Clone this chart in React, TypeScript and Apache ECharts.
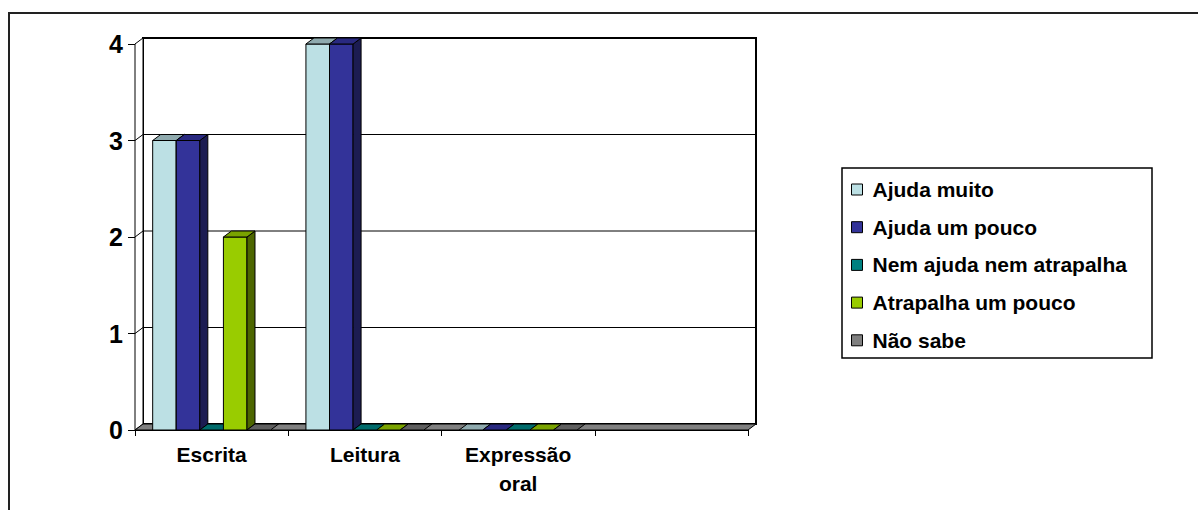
import React, { useEffect, useRef } from "react";
import * as echarts from "echarts";

const categories = ["Escrita", "Leitura", "Expressão\noral", ""];
const seriesNames = [
  "Ajuda muito",
  "Ajuda um pouco",
  "Nem ajuda nem atrapalha",
  "Atrapalha um pouco",
  "Não sabe",
];
const ajudaMuito = [3, 4, 0];
const ajudaUmPouco = [3, 4, 0];
const nemAjuda = [0, 0, 0];
const atrapalhaUmPouco = [2, 0, 0];
const naoSabe = [0, 0, 0];
const seriesValues = [ajudaMuito, ajudaUmPouco, nemAjuda, atrapalhaUmPouco, naoSabe];
const yTicks = [0, 1, 2, 3, 4];

const faceColors = ["#BCE0E4", "#333399", "#008080", "#99CC00", "#808080"];
const topColors = ["#8FAAAE", "#292980", "#006B6B", "#7AA300", "#5F5F5F"];
const sideColors = ["#5E7072", "#1C1C52", "#004444", "#4D6600", "#404040"];

const DX = 8;
const DY = -6;
const FONT = "Arial, 'Liberation Sans', sans-serif";

export default function App() {
  const ref = useRef<HTMLDivElement>(null);

  useEffect(() => {
    if (!ref.current) return;
    const chart = echarts.init(ref.current, undefined, { renderer: "svg" });

    const wallSeries: any = {
      type: "custom",
      name: "walls",
      silent: true,
      data: [[0, 0]],
      encode: { x: 0, y: 1 },
      renderItem: (params: any, api: any) => {
        const cs = params.coordSys;
        const gx = cs.x, gy = cs.y, gw = cs.width, gh = cs.height;
        const children: any[] = [];
        children.push({
          type: "rect",
          shape: { x: gx + DX, y: gy + DY, width: gw, height: gh },
          style: { fill: "#fff", stroke: "#000", lineWidth: 2 },
        });
        children.push({
          type: "polygon",
          shape: {
            points: [
              [gx, gy + gh],
              [gx, gy],
              [gx + DX, gy + DY],
              [gx + DX, gy + gh + DY],
            ],
          },
          style: { fill: "#fff", stroke: "#000", lineWidth: 1 },
        });
        yTicks.forEach((v) => {
          if (v === yTicks[0] || v === yTicks[yTicks.length - 1]) return;
          const y = api.coord([0, v])[1];
          children.push({
            type: "line",
            shape: { x1: gx + DX, y1: y + DY, x2: gx + gw + DX, y2: y + DY },
            style: { stroke: "#000", lineWidth: 1 },
          });
          children.push({
            type: "line",
            shape: { x1: gx, y1: y, x2: gx + DX, y2: y + DY },
            style: { stroke: "#000", lineWidth: 1 },
          });
        });
        children.push({
          type: "polygon",
          shape: {
            points: [
              [gx, gy + gh],
              [gx + gw, gy + gh],
              [gx + gw + DX, gy + gh + DY],
              [gx + DX, gy + gh + DY],
            ],
          },
          style: { fill: "#808080", stroke: "#000", lineWidth: 1 },
        });
        return { type: "group", children };
      },
      z: 1,
    };

    const makeBar = (si: number) => ({
      type: "custom",
      name: seriesNames[si],
      itemStyle: { color: faceColors[si] },
      data: seriesValues[si].map((v, i) => [i, v]),
      encode: { x: 0, y: 1 },
      z: 2,
      renderItem: (params: any, api: any) => {
        const cat = api.value(0);
        const val = api.value(1);
        const base = api.coord([cat, 0]);
        const top = api.coord([cat, val]);
        const band = api.size([1, 0])[0];
        const bw = band / 6.5;
        const x = base[0] - band / 2 + bw * 0.75 + si * bw;
        const y0 = base[1];
        const yt = top[1];
        const children: any[] = [];
        if (val > 0) {
          children.push({
            type: "rect",
            shape: { x, y: yt, width: bw, height: y0 - yt },
            style: { fill: faceColors[si], stroke: "#000", lineWidth: 1 },
          });
          children.push({
            type: "polygon",
            shape: {
              points: [
                [x + bw, yt],
                [x + bw + DX, yt + DY],
                [x + bw + DX, y0 + DY],
                [x + bw, y0],
              ],
            },
            style: { fill: sideColors[si], stroke: "#000", lineWidth: 1 },
          });
        }
        children.push({
          type: "polygon",
          shape: {
            points: [
              [x, yt],
              [x + bw, yt],
              [x + bw + DX, yt + DY],
              [x + DX, yt + DY],
            ],
          },
          style: { fill: topColors[si], stroke: "#000", lineWidth: 1 },
        });
        return { type: "group", children };
      },
    });

    const option: any = {
      animation: false,
      backgroundColor: "#fff",
      grid: { left: 135, top: 44, width: 613, height: 386 },
      xAxis: {
        type: "category",
        data: categories,
        boundaryGap: true,
        axisLine: { show: true, lineStyle: { color: "#000", width: 1 } },
        axisTick: { show: true, length: 6, alignWithLabel: false, lineStyle: { color: "#000" } },
        axisLabel: {
          interval: 0,
          margin: 10,
          color: "#000",
          fontSize: 21,
          fontWeight: "bold",
          fontFamily: FONT,
          lineHeight: 29,
        },
        splitLine: { show: false },
      },
      yAxis: {
        type: "value",
        min: yTicks[0],
        max: yTicks[yTicks.length - 1],
        interval: 1,
        axisLine: { show: true, lineStyle: { color: "#000", width: 1 } },
        axisTick: { show: true, length: 7, lineStyle: { color: "#000" } },
        axisLabel: {
          margin: 12,
          color: "#000",
          fontSize: 25,
          fontWeight: "bold",
          fontFamily: FONT,
        },
        splitLine: { show: false },
      },
      legend: {
        data: seriesNames,
        orient: "vertical",
        left: 851,
        top: 179,
        padding: 0,
        icon: "rect",
        itemWidth: 11,
        itemHeight: 11,
        itemGap: 16.7,
        itemStyle: { borderColor: "#000", borderWidth: 1 },
        textStyle: {
          fontSize: 21,
          fontWeight: "bold",
          fontFamily: FONT,
          color: "#000",
          lineHeight: 21,
          padding: [0, 0, 0, 5],
        },
        selectedMode: false,
      },
      graphic: [
        {
          type: "line",
          shape: { x1: 8, y1: 13, x2: 1198, y2: 13 },
          style: { stroke: "#222", lineWidth: 2 },
        },
        {
          type: "line",
          shape: { x1: 9, y1: 12, x2: 9, y2: 510 },
          style: { stroke: "#222", lineWidth: 2 },
        },
        {
          type: "rect",
          shape: { x: 842, y: 168, width: 310, height: 190 },
          style: { fill: "none", stroke: "#000", lineWidth: 1.5 },
        },
      ],
      series: [wallSeries, ...seriesNames.map((_, i) => makeBar(i))],
    };

    chart.setOption(option);
    return () => chart.dispose();
  }, []);

  return (
    <div
      ref={ref}
      style={{ position: "fixed", left: 0, top: 0, width: 1198, height: 510 }}
    />
  );
}
